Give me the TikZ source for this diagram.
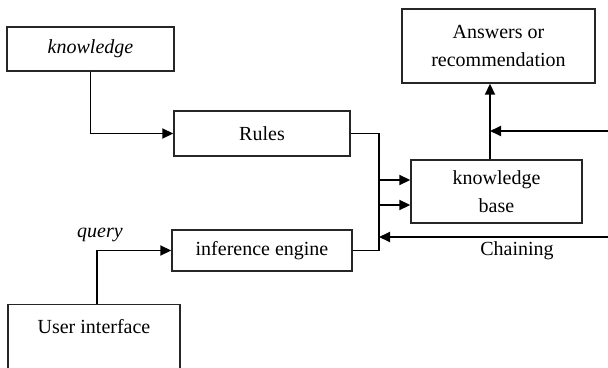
\documentclass[tikz,border=0pt]{standalone}
\usepackage{fontspec}
\setmainfont{Liberation Serif}
\usetikzlibrary{arrows.meta}
\begin{document}
\begin{tikzpicture}[x=1pt,y=-1pt,
  box/.style={draw=black!85,line width=1.4pt,rectangle,inner sep=0pt,align=center,
    font=\fontsize{20}{28}\selectfont},
  conn/.style={line width=1.8pt,draw=black,-{Triangle[length=11pt,width=10pt]}},
  lbl/.style={font=\fontsize{20}{24}\selectfont}]
\useasboundingbox (0,0) rectangle (608,367);
\node[box,minimum width=167pt,minimum height=44pt] (know) at (90.5,49) {\itshape knowledge};
\node[box,minimum width=176pt,minimum height=45pt] (rules) at (262,133.5) {Rules};
\node[box,minimum width=193pt,minimum height=74pt] (ans) at (498.5,46) {Answers or\\recommendation};
\node[box,minimum width=171pt,minimum height=63pt] (kb) at (496.5,191.5) {knowledge\\base};
\node[box,minimum width=180pt,minimum height=41pt] (eng) at (262,250.5) {inference engine};
\node[box,minimum width=172pt,minimum height=110pt,anchor=north] (ui) at (94,304) {};
\node[lbl] (uitext) at (94,327) {User interface};
\node[lbl,font=\fontsize{20}{24}\selectfont\itshape] (query) at (100,235) {query};
\node[lbl] (chain) at (517,251) {Chaining};
\coordinate (ansin) at (608,131);
\coordinate (chainin) at (608,237);
\coordinate (kbtop) at ([xshift=-6.5pt]kb.north);
\coordinate (anslow) at (ans.south -| kbtop);
\draw[conn] (know.south) |- (rules.west);
\draw[conn] (rules.east) -| (379,165) |- ([yshift=-13.5pt]kb.west);
\draw[conn] (eng.east) -| (379,230) |- ([yshift=11.5pt]kb.west);
\draw[conn] (chainin) -- (379,237);
\draw[conn] (kbtop) -- (anslow);
\draw[conn] (ansin) -- (kbtop |- ansin);
\draw[conn] (97,304) |- (eng.west);
\end{tikzpicture}
\end{document}
